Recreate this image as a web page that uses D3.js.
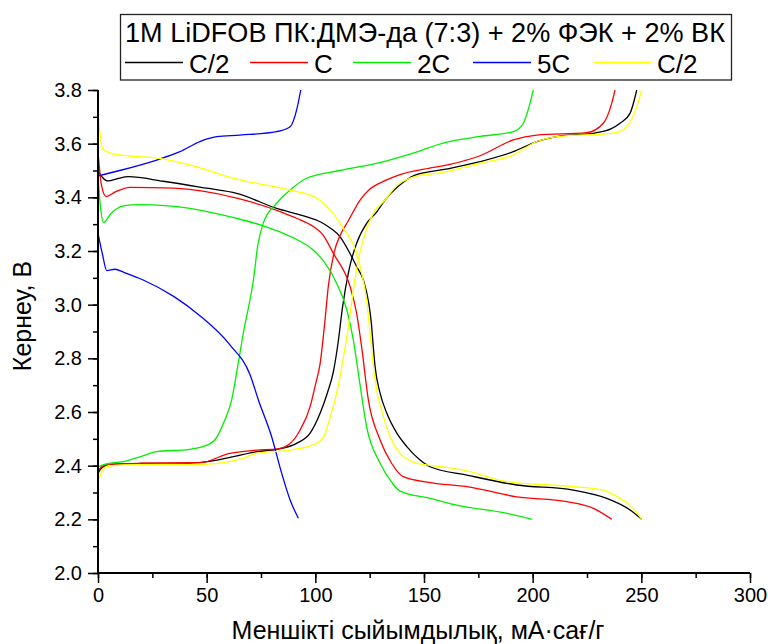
<!DOCTYPE html>
<html><head><meta charset="utf-8">
<script src="https://cdn.jsdelivr.net/npm/d3@7"></script>
<style>body{margin:0;background:#fff}svg{display:block}text{font-family:"Liberation Sans",Arial,sans-serif}</style>
</head><body><svg id="c" width="768" height="644"></svg>
<script>
const title = "1M LiDFOB ПК:ДМЭ-да (7:3) + 2% ФЭК + 2% ВК";
const seriesNames = ["C/2", "C", "2C", "5C", "C/2"];
const seriesColors = ["#000000", "#ff0000", "#00ee00", "#0000ff", "#ffff00"];
const xTicks = [0, 50, 100, 150, 200, 250, 300];
const yTicks = [2.0, 2.2, 2.4, 2.6, 2.8, 3.0, 3.2, 3.4, 3.6, 3.8];
const xLabel = "Меншікті сыйымдылық, мА·сағ/г";
const yLabel = "Кернеу, В";

// [capacity, voltage]
const chargeC2a = [[0,2.37],[1,2.385],[5.5,2.406],[20,2.408],[42.3,2.409],[48.5,2.413],[62.3,2.434],[73,2.452],[82.2,2.461],[91.4,2.483],[97.6,2.521],[102.2,2.595],[105.5,2.67],[108.3,2.75],[110.5,2.86],[112.5,2.99],[115.5,3.13],[119,3.229],[123.6,3.303],[128.2,3.345],[132.1,3.39],[138,3.44],[145.9,3.483],[160,3.505],[175.8,3.533],[191.1,3.57],[201.9,3.608],[211.1,3.626],[229.5,3.641],[236,3.655],[240.2,3.676],[244.8,3.713],[247.9,3.8]];
const dischargeC2a = [[0,3.50],[2,3.475],[4.7,3.461],[9,3.47],[14,3.477],[30,3.46],[50,3.434],[63.8,3.415],[82.2,3.359],[95,3.33],[102.2,3.309],[107,3.285],[111.4,3.253],[116,3.19],[119,3.142],[122.1,3.092],[124.5,3.01],[125.8,2.93],[126.6,2.85],[127.5,2.769],[129.8,2.67],[132.9,2.595],[137.5,2.521],[142.1,2.471],[148.2,2.421],[152.8,2.396],[169.7,2.365],[192.7,2.328],[218.7,2.309],[234.1,2.278],[244.8,2.235],[250.2,2.2]];
const chargeC = [[0,2.38],[1.5,2.395],[5,2.405],[20,2.409],[46.9,2.411],[60.7,2.446],[73,2.458],[82.2,2.462],[88.4,2.483],[93,2.533],[97.6,2.62],[100,2.7],[102.2,2.78],[104.3,2.93],[106,3.07],[108.5,3.19],[111.5,3.26],[115,3.31],[120.6,3.39],[125,3.43],[132,3.462],[139,3.485],[150,3.505],[162,3.523],[175.8,3.555],[191.1,3.614],[201.9,3.632],[224.9,3.641],[232.5,3.676],[236.4,3.751],[237.9,3.8]];
const dischargeC = [[0,3.57],[1.5,3.45],[3.7,3.403],[8,3.42],[14.7,3.437],[34.7,3.434],[63.8,3.397],[83.8,3.347],[91.4,3.322],[99.1,3.291],[103.5,3.26],[108.3,3.191],[116,3.067],[119,2.968],[121.3,2.843],[124.4,2.645],[129.8,2.496],[135,2.41],[140.5,2.359],[152.8,2.337],[169.7,2.322],[192.7,2.284],[215.7,2.266],[228,2.241],[236.4,2.2]];
const charge2C = [[0,2.395],[3,2.405],[11.7,2.415],[20,2.435],[27,2.452],[42.3,2.461],[51.5,2.481],[55,2.51],[57.7,2.558],[61.5,2.645],[64.5,2.78],[67,2.9],[69.5,3.0],[71.5,3.092],[73.5,3.22],[76,3.303],[82.2,3.378],[88.4,3.427],[96,3.471],[111.4,3.5],[130,3.53],[145,3.565],[160,3.605],[175.8,3.627],[191.1,3.645],[195.7,3.676],[198.8,3.751],[200.3,3.8]];
const discharge2C = [[0,3.48],[1.2,3.36],[2.5,3.306],[6,3.34],[11.7,3.368],[19.3,3.373],[42.3,3.359],[62,3.325],[76,3.294],[84,3.27],[91.4,3.243],[99.1,3.203],[104,3.16],[109.8,3.08],[114.5,2.98],[117.5,2.868],[119.8,2.744],[123.6,2.545],[129.8,2.409],[135,2.34],[139,2.305],[152.8,2.278],[165,2.253],[188.1,2.222],[199.6,2.2]];
const charge5C = [[0,3.48],[10,3.5],[27,3.539],[37.7,3.57],[46.9,3.608],[54.6,3.626],[65.3,3.632],[82.2,3.645],[88.4,3.663],[91.4,3.726],[93.3,3.8]];
const discharge5C = [[0,3.266],[2,3.19],[4,3.127],[7.8,3.132],[12,3.12],[20.8,3.092],[35,3.03],[47,2.958],[60.7,2.85],[70,2.738],[73.8,2.645],[79.9,2.508],[84.5,2.372],[88.4,2.272],[92.2,2.204]];
const chargeC2b = [[0,2.347],[2,2.38],[4,2.396],[11.7,2.403],[50,2.406],[65.3,2.424],[73,2.446],[88.4,2.458],[100.6,2.483],[104,2.51],[106.8,2.58],[109.8,2.67],[112.2,2.769],[115.2,2.918],[117.5,3.055],[119.8,3.167],[122.9,3.266],[126.7,3.341],[132.1,3.39],[137,3.44],[143.6,3.472],[160,3.495],[175.8,3.527],[191.1,3.558],[201.9,3.608],[211.1,3.626],[237.1,3.639],[243.3,3.663],[247.9,3.738],[250.2,3.8]];
const dischargeC2b = [[0,3.72],[1,3.63],[2.5,3.577],[7,3.562],[14.7,3.554],[27,3.546],[42.3,3.521],[62.3,3.471],[88.4,3.427],[100.6,3.397],[106.8,3.353],[111.4,3.303],[120.6,3.142],[123.6,3.017],[125.2,2.893],[127.5,2.719],[131.3,2.583],[134.4,2.508],[139,2.446],[146.7,2.409],[151.3,2.403],[169.7,2.381],[188.1,2.34],[218.7,2.322],[232.5,2.309],[240.2,2.278],[244.8,2.253],[250.2,2.2]];

const curves = [
  [chargeC2a, 0], [dischargeC2a, 0],
  [chargeC, 1], [dischargeC, 1],
  [charge2C, 2], [discharge2C, 2],
  [charge5C, 3], [discharge5C, 3],
  [chargeC2b, 4], [dischargeC2b, 4]
];

const svg = d3.select("#c");
const m = {l: 98, r: 750, t: 90, b: 573};
const x = d3.scaleLinear().domain([0, 300]).range([m.l, m.r]);
const y = d3.scaleLinear().domain([2.0, 3.8]).range([m.b, m.t]);

const line = d3.line().x(d => x(d[0])).y(d => y(d[1])).curve(d3.curveMonotoneX);
svg.append("g").selectAll("path").data(curves).join("path")
  .attr("d", d => line(d[0])).attr("fill", "none")
  .attr("stroke", d => seriesColors[d[1]]).attr("stroke-width", 1.3);

// axes
const xMinor = d3.range(0, 301, 25);
const yMinor = d3.range(0, 19).map(i => +(2.0 + i * 0.1).toFixed(1));
const gx = svg.append("g").attr("transform", `translate(0,${m.b})`);
gx.call(d3.axisBottom(x).tickValues(xMinor).tickSize(5).tickFormat(""));
gx.call(g => g.select(".domain").remove());
const gx2 = svg.append("g").attr("transform", `translate(0,${m.b})`);
gx2.call(d3.axisBottom(x).tickValues(xTicks).tickSize(10).tickPadding(5).tickFormat(d3.format("d")));
const gy = svg.append("g").attr("transform", `translate(${m.l},0)`);
gy.call(d3.axisLeft(y).tickValues(yMinor).tickSize(5).tickFormat(""));
gy.call(g => g.select(".domain").remove());
const gy2 = svg.append("g").attr("transform", `translate(${m.l},0)`);
gy2.call(d3.axisLeft(y).tickValues(yTicks).tickSize(10).tickPadding(6).tickFormat(d3.format(".1f")));
svg.selectAll(".domain").attr("stroke", "#000").attr("stroke-width", 2);
svg.selectAll(".tick line").attr("stroke", "#000").attr("stroke-width", 1.5);
svg.selectAll(".tick text").attr("font-size", 20).attr("fill", "#000")
  .style("font-family", '"Liberation Sans",Arial,sans-serif');
gx2.selectAll(".domain").attr("d", `M${m.l},0H${m.r}`);
gy2.selectAll(".domain").attr("d", `M0,${m.b}V${m.t}`);

svg.append("text").attr("x", 418).attr("y", 639).attr("text-anchor", "middle")
  .attr("font-size", 25).text(xLabel);
svg.append("text").attr("transform", "translate(31,316) rotate(-90)").attr("text-anchor", "middle")
  .attr("font-size", 25).text(yLabel);

// legend
const lg = svg.append("g");
lg.append("rect").attr("x", 120.5).attr("y", 14.5).attr("width", 611).attr("height", 65.5)
  .attr("fill", "#fff").attr("stroke", "#222").attr("stroke-width", 1.3);
const tt = lg.append("text").attr("x", 425).attr("y", 42).attr("text-anchor", "middle").attr("font-size", 20).text(title);
const w = tt.node().getComputedTextLength();
tt.attr("font-size", 20 * 600 / w);
const lx = [125, 250, 353, 473, 593];
seriesNames.forEach((n, i) => {
  lg.append("line").attr("x1", lx[i]).attr("x2", lx[i] + 58).attr("y1", 62.5).attr("y2", 62.5)
    .attr("stroke", seriesColors[i]).attr("stroke-width", 1.3);
  lg.append("text").attr("x", lx[i] + 64).attr("y", 72.5).attr("font-size", 26).text(n);
});
</script></body></html>
